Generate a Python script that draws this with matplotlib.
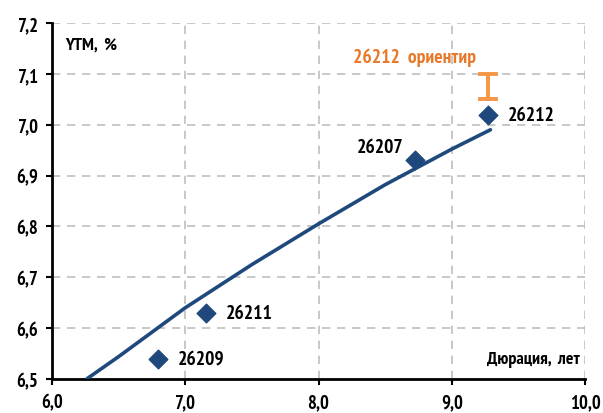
import matplotlib.pyplot as plt

# yield curve (duration, ytm)
curve_x = [6.26, 6.5, 7.0, 7.5, 8.0, 8.5, 9.0, 9.29]
curve_y = [6.50, 6.544, 6.64, 6.725, 6.805, 6.882, 6.952, 6.99]

# bonds
bond_names = ['26209', '26211', '26207', '26212']
bond_x = [6.795, 7.156, 8.724, 9.272]
bond_y = [6.54, 6.63, 6.93, 7.02]

# guidance range for the new issue
guide_x = 9.272
guide_lo = 7.05
guide_hi = 7.10

xticks = [6.0, 7.0, 8.0, 9.0, 10.0]
yticks = [6.5, 6.6, 6.7, 6.8, 6.9, 7.0, 7.1, 7.2]

plt.rcParams['font.family'] = ['PT Sans Narrow', 'Roboto Condensed', 'Liberation Sans', 'DejaVu Sans']
plt.rcParams['font.weight'] = 'bold'

fig = plt.figure(figsize=(6.03, 4.14), dpi=100)
ax = fig.add_axes([0.0862, 0.0821, 0.884, 0.86])

blue = '#1F497D'
orange = '#F79646'

ax.plot(curve_x, curve_y, color=blue, lw=2.6, solid_capstyle='round', zorder=3)
ax.scatter(bond_x, bond_y, marker='D', s=90, color=blue, zorder=4)

offsets = {'26209': (0.15, 0), '26211': (0.15, 0), '26212': (0.15, 0), '26207': (-0.09, 0.026)}
for name, x, y in zip(bond_names, bond_x, bond_y):
    dx, dy = offsets[name]
    ha = 'right' if dx < 0 else 'left'
    ax.text(x + dx, y + dy, name, fontsize=14, ha=ha, va='center', color='black')

# guidance bar
ax.plot([guide_x, guide_x], [guide_lo, guide_hi], color=orange, lw=2.8, zorder=3)
ax.plot([guide_x - 0.06, guide_x + 0.06], [guide_lo, guide_lo], color=orange, lw=2.8)
ax.plot([guide_x - 0.06, guide_x + 0.06], [guide_hi, guide_hi], color=orange, lw=2.8)
ax.text(9.18, 7.133, '26212  ориентир', color='#E8792A', fontsize=14, ha='right', va='center')

ax.text(6.1, 7.158, 'YTM,  %', fontsize=13, ha='left', va='center', color='black')
ax.text(9.96, 6.539, 'Дюрация,  лет', fontsize=13, ha='right', va='center', color='black')

ax.set_xlim(6.0, 10.0)
ax.set_ylim(6.5, 7.2)
ax.set_xticks(xticks)
ax.set_yticks(yticks)
ax.set_xticklabels([f'{v:.1f}'.replace('.', ',') for v in xticks])
ax.set_yticklabels([f'{v:.1f}'.replace('.', ',') for v in yticks])
ax.tick_params(labelsize=13.5, length=4, width=1.5, direction='out', pad=6)

ax.grid(True, color='#BFBFBF', ls=(0, (5, 4)), lw=1.2)
ax.set_axisbelow(True)
for s in ['top', 'right']:
    ax.spines[s].set_visible(False)
for s in ['left', 'bottom']:
    ax.spines[s].set_linewidth(2)

fig.savefig('out.png', dpi=100)
